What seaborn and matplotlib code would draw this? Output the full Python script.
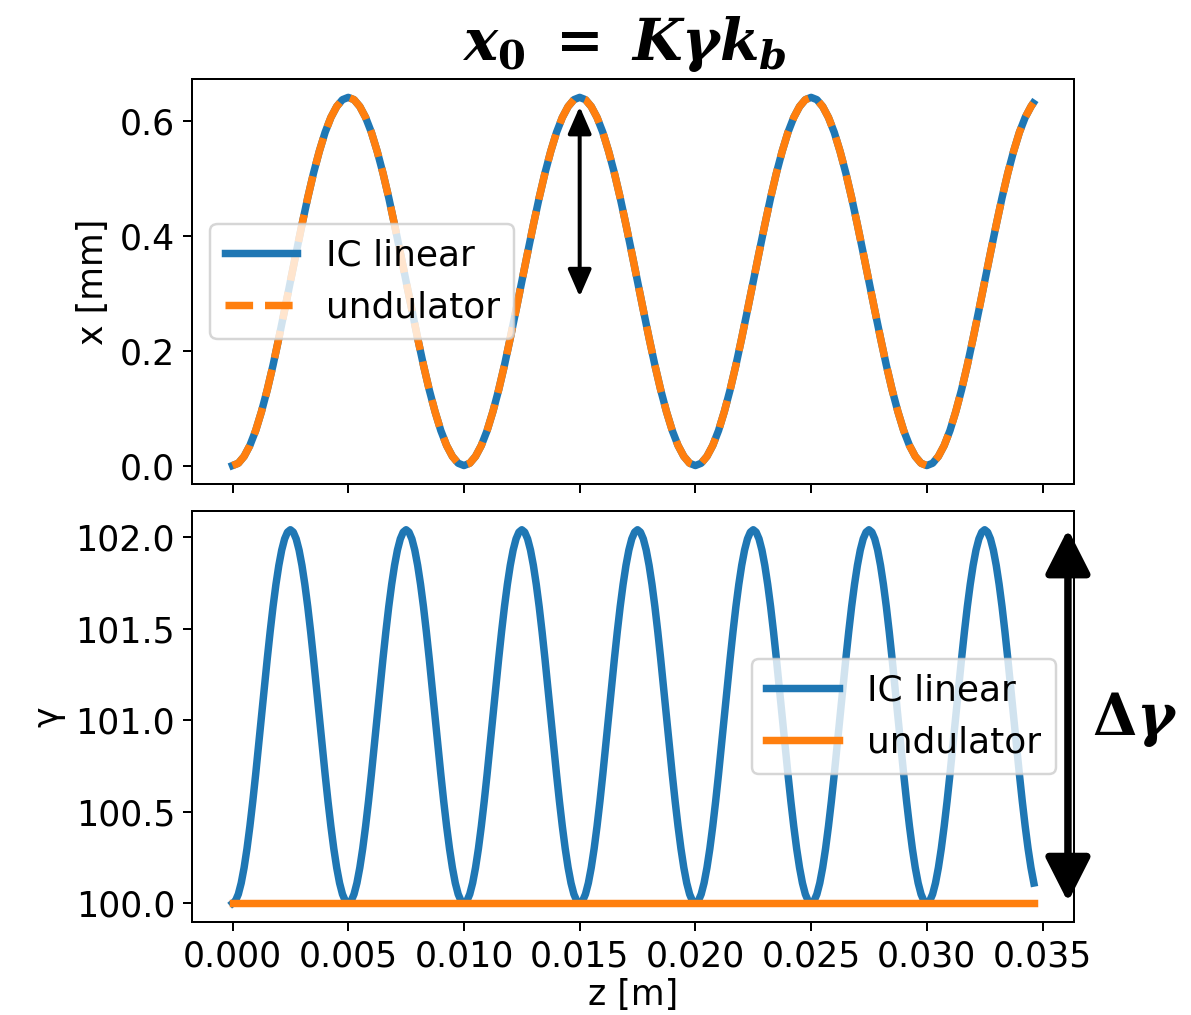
import numpy as np
import matplotlib
matplotlib.use('Agg')
import matplotlib.pyplot as plt
import seaborn as sns

# sample grids along z [m]
z_top = np.append(np.round(np.arange(0, 0.0345 + 1e-9, 0.00025), 6), 0.0346)
z_bottom = np.round(np.arange(0, 0.034625 + 1e-9, 0.000125), 6)

# x [mm], IC linear
x_ic_linear = [
    0.000, 0.004, 0.016, 0.035, 0.061, 0.094, 0.132, 0.175, 0.222, 0.271,
    0.321, 0.371, 0.420, 0.467, 0.510, 0.548, 0.581, 0.607, 0.626, 0.638,
    0.642, 0.638, 0.626, 0.607, 0.581, 0.548, 0.510, 0.467, 0.420, 0.371,
    0.321, 0.271, 0.222, 0.175, 0.132, 0.094, 0.061, 0.035, 0.016, 0.004,
    0.000, 0.004, 0.016, 0.035, 0.061, 0.094, 0.132, 0.175, 0.222, 0.271,
    0.321, 0.371, 0.420, 0.467, 0.510, 0.548, 0.581, 0.607, 0.626, 0.638,
    0.642, 0.638, 0.626, 0.607, 0.581, 0.548, 0.510, 0.467, 0.420, 0.371,
    0.321, 0.271, 0.222, 0.175, 0.132, 0.094, 0.061, 0.035, 0.016, 0.004,
    0.000, 0.004, 0.016, 0.035, 0.061, 0.094, 0.132, 0.175, 0.222, 0.271,
    0.321, 0.371, 0.420, 0.467, 0.510, 0.548, 0.581, 0.607, 0.626, 0.638,
    0.642, 0.638, 0.626, 0.607, 0.581, 0.548, 0.510, 0.467, 0.420, 0.371,
    0.321, 0.271, 0.222, 0.175, 0.132, 0.094, 0.061, 0.035, 0.016, 0.004,
    0.000, 0.004, 0.016, 0.035, 0.061, 0.094, 0.132, 0.175, 0.222, 0.271,
    0.321, 0.371, 0.420, 0.467, 0.510, 0.548, 0.581, 0.607, 0.626, 0.632,
]
# undulator curve lies exactly on top of the IC one
x_undulator = list(x_ic_linear)

# gamma, IC linear
gamma_ic_linear = [
    100.000, 100.013, 100.050, 100.111, 100.195, 100.299, 100.421, 100.557, 100.705, 100.860,
    101.020, 101.180, 101.335, 101.483, 101.620, 101.741, 101.845, 101.929, 101.990, 102.027,
    102.040, 102.027, 101.990, 101.929, 101.845, 101.741, 101.620, 101.483, 101.335, 101.180,
    101.020, 100.860, 100.705, 100.557, 100.421, 100.299, 100.195, 100.111, 100.050, 100.013,
    100.000, 100.013, 100.050, 100.111, 100.195, 100.299, 100.421, 100.557, 100.705, 100.860,
    101.020, 101.180, 101.335, 101.483, 101.620, 101.741, 101.845, 101.929, 101.990, 102.027,
    102.040, 102.027, 101.990, 101.929, 101.845, 101.741, 101.620, 101.483, 101.335, 101.180,
    101.020, 100.860, 100.705, 100.557, 100.421, 100.299, 100.195, 100.111, 100.050, 100.013,
    100.000, 100.013, 100.050, 100.111, 100.195, 100.299, 100.421, 100.557, 100.705, 100.860,
    101.020, 101.180, 101.335, 101.483, 101.620, 101.741, 101.845, 101.929, 101.990, 102.027,
    102.040, 102.027, 101.990, 101.929, 101.845, 101.741, 101.620, 101.483, 101.335, 101.180,
    101.020, 100.860, 100.705, 100.557, 100.421, 100.299, 100.195, 100.111, 100.050, 100.013,
    100.000, 100.013, 100.050, 100.111, 100.195, 100.299, 100.421, 100.557, 100.705, 100.860,
    101.020, 101.180, 101.335, 101.483, 101.620, 101.741, 101.845, 101.929, 101.990, 102.027,
    102.040, 102.027, 101.990, 101.929, 101.845, 101.741, 101.620, 101.483, 101.335, 101.180,
    101.020, 100.860, 100.705, 100.557, 100.421, 100.299, 100.195, 100.111, 100.050, 100.013,
    100.000, 100.013, 100.050, 100.111, 100.195, 100.299, 100.421, 100.557, 100.705, 100.860,
    101.020, 101.180, 101.335, 101.483, 101.620, 101.741, 101.845, 101.929, 101.990, 102.027,
    102.040, 102.027, 101.990, 101.929, 101.845, 101.741, 101.620, 101.483, 101.335, 101.180,
    101.020, 100.860, 100.705, 100.557, 100.421, 100.299, 100.195, 100.111, 100.050, 100.013,
    100.000, 100.013, 100.050, 100.111, 100.195, 100.299, 100.421, 100.557, 100.705, 100.860,
    101.020, 101.180, 101.335, 101.483, 101.620, 101.741, 101.845, 101.929, 101.990, 102.027,
    102.040, 102.027, 101.990, 101.929, 101.845, 101.741, 101.620, 101.483, 101.335, 101.180,
    101.020, 100.860, 100.705, 100.557, 100.421, 100.299, 100.195, 100.111, 100.050, 100.013,
    100.000, 100.013, 100.050, 100.111, 100.195, 100.299, 100.421, 100.557, 100.705, 100.860,
    101.020, 101.180, 101.335, 101.483, 101.620, 101.741, 101.845, 101.929, 101.990, 102.027,
    102.040, 102.027, 101.990, 101.929, 101.845, 101.741, 101.620, 101.483, 101.335, 101.180,
    101.020, 100.860, 100.705, 100.557, 100.421, 100.299, 100.195, 100.111,
]
gamma_undulator = [100.0] * len(z_bottom)

x_ticks = [0.000, 0.005, 0.010, 0.015, 0.020, 0.025, 0.030, 0.035]
x_ticklabels = ['0.000', '0.005', '0.010', '0.015', '0.020', '0.025', '0.030', '0.035']
top_yticks = [0.0, 0.2, 0.4, 0.6]
bottom_yticks = [100.0, 100.5, 101.0, 101.5, 102.0]

blue = '#1f77b4'
orange = '#ff7f0e'

# bold italic serif for the formula annotations
plt.rcParams['mathtext.fontset'] = 'custom'
plt.rcParams['mathtext.it'] = 'DejaVu Serif:italic:bold'
plt.rcParams['mathtext.rm'] = 'DejaVu Serif:bold'
plt.rcParams['mathtext.bf'] = 'DejaVu Serif:bold'
plt.rcParams['font.size'] = 14

dpi = 179
fig = plt.figure(figsize=(1191 / dpi, 1015 / dpi), dpi=dpi)
ax1 = fig.add_axes([0.1616, 0.5232, 0.7401, 0.3990])
ax2 = fig.add_axes([0.1616, 0.0916, 0.7401, 0.4049], sharex=ax1)

# top: x trajectory
sns.lineplot(x=z_top, y=x_ic_linear, ax=ax1, color=blue, lw=3, label='IC linear')
sns.lineplot(x=z_top, y=x_undulator, ax=ax1, color=orange, lw=3, linestyle='--', label='undulator')
ax1.set_ylabel('x [mm]', fontsize=14)
ax1.set_yticks(top_yticks)
ax1.tick_params(labelsize=14, labelbottom=False)
ax1.legend(loc='center left', fontsize=14.5)

# bottom: gamma
sns.lineplot(x=z_bottom, y=gamma_ic_linear, ax=ax2, color=blue, lw=3, label='IC linear')
sns.lineplot(x=z_bottom, y=gamma_undulator, ax=ax2, color=orange, lw=3, label='undulator')
ax2.set_ylabel('γ', fontsize=14)
ax2.set_xlabel('z [m]', fontsize=14, labelpad=2)
ax2.set_yticks(bottom_yticks)
ax2.set_xticks(x_ticks)
ax2.set_xticklabels(x_ticklabels)
ax2.tick_params(labelsize=14)
ax2.legend(loc='center right', fontsize=14.5)

# amplitude arrow in top panel
ax1.annotate('', xy=(0.015, 0.626), xytext=(0.015, 0.2945),
             arrowprops=dict(arrowstyle='<|-|>,head_length=0.46,head_width=0.2',
                             color='black', lw=1.6, shrinkA=0, shrinkB=0,
                             mutation_scale=20))

# delta gamma arrow on the right of bottom panel
ax2.annotate('', xy=(0.9932, 0.956), xytext=(0.9932, 0.0487),
             xycoords='axes fraction', textcoords='axes fraction',
             annotation_clip=False,
             arrowprops=dict(arrowstyle='<|-|>,head_length=0.75,head_width=0.38',
                             color='black', lw=3, shrinkA=0, shrinkB=0,
                             mutation_scale=20))

fig.text(0.524, 0.941, r'$x_0\;=\;K\gamma k_b$', ha='center', va='baseline', fontsize=23)
fig.text(0.953, 0.291, r'$\Delta\gamma$', ha='center', va='center', fontsize=23)

fig.savefig('out.png', dpi=dpi)
